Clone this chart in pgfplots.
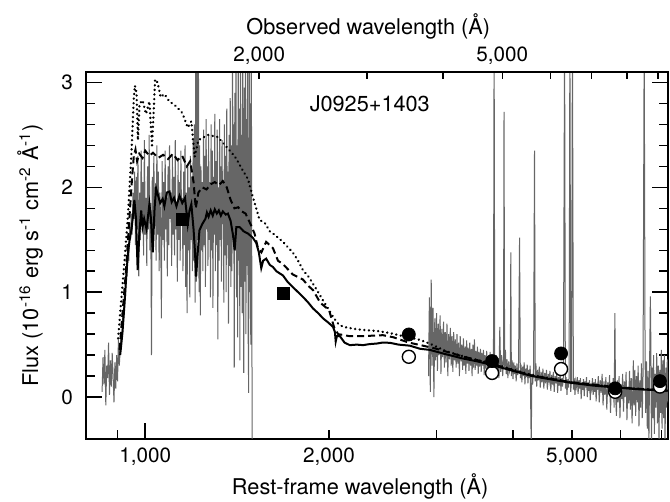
\documentclass[border=0pt]{standalone}
\usepackage{fontspec}
\setmainfont{TeX Gyre Heros}
\usepackage{pgfplots}
\pgfplotsset{compat=1.18}

\definecolor{specgray}{gray}{0.40}

\newcommand{\tickfont}{\fontsize{10.35}{12}\selectfont}
\newcommand{\labfont}{\fontsize{10.85}{13}\selectfont}

\begin{document}
\begin{tikzpicture}
% rest-frame axis (main)
\begin{axis}[
    scale only axis, width=291pt, height=183.5pt,
    xmode=log, xmin=800, xmax=7180,
    ymin=-0.4, ymax=3.1,
    axis line style={line width=1pt},
    every tick/.style={line width=0.75pt, black},
    tick align=inside,
    major tick length=8pt, minor tick length=4.3pt,
    xtick pos=left, yticklabel pos=left,
    xtick={1000}, xticklabels={1{,}000},
    minor xtick={900,2000,3000,4000,5000,6000,7000},
    extra x ticks={2000,5000}, extra x tick labels={{2,000},{5,000}},
    extra x tick style={major tick length=0pt},
    ytick={0,1,2,3}, minor y tick num=4,
    /pgf/number format/assume math mode=true,
    tick label style={font=\tickfont},
    yticklabel style={xshift=-3pt},
    xticklabel style={yshift=-1pt},
    label style={font=\labfont},
    xlabel={Rest-frame wavelength (Å)},
    xlabel style={at={(rel axis cs:0.471,-0.128)}, anchor=center},
    ylabel={Flux (10\textsuperscript{-16} erg s\textsuperscript{-1} cm\textsuperscript{-2} Å\textsuperscript{-1})},
    ylabel style={at={(rel axis cs:-0.0962,0.5)}, anchor=center},
]
\coordinate (bbsw) at (rel axis cs:0,0);
\coordinate (bbne) at (rel axis cs:1,1);

% COS far-UV spectrum
\addplot[specgray, line width=0.5pt] coordinates {
(850,0.05) (853,0.38) (856,0.12) (859,0.45) (862,-0.08) (865,0.30) (868,0.18) (871,0.52) (874,0.02) (877,0.35)
(880,0.10) (883,0.42) (886,0.20) (889,-0.05) (892,0.33) (895,0.08) (898,0.40) (901,0.15) (904,0.55) (907,0.30)
(910,0.45) (913,0.62) (916,0.55) (919,0.80) (922,0.75) (925,0.98) (928,0.92) (931,1.20) (934,1.15) (937,1.42)
(940,1.30) (943,1.62) (946,1.50) (949,1.75) (952,1.55) (955,1.95) (958,1.70) (961,2.15)
(964,1.45) (967,2.10) (970,1.60) (973,2.30) (976,1.15) (979,1.95) (982,1.50) (985,2.35) (988,1.70) (991,2.05)
(994,1.35) (997,2.45) (1000,1.55) (1003,1.90) (1006,1.25) (1009,2.20) (1012,1.60) (1015,2.50) (1018,1.40) (1021,1.85)
(1024,0.40) (1027,2.10) (1030,1.45) (1033,2.30) (1036,1.70) (1039,2.00) (1042,1.30) (1045,2.40) (1048,1.55) (1051,2.15)
(1054,1.20) (1057,1.95) (1060,1.65) (1063,0.75) (1066,2.25) (1069,1.50) (1072,2.05) (1075,1.30) (1078,2.35) (1081,1.60)
(1084,1.90) (1087,1.15) (1090,2.20) (1093,1.45) (1096,2.40) (1099,1.70) (1102,1.95) (1105,1.25) (1108,2.30) (1111,1.55)
(1114,2.10) (1117,1.35) (1120,2.45) (1123,1.60) (1126,1.85) (1129,1.10) (1132,2.25) (1135,1.50) (1138,2.05) (1141,1.30)
(1144,2.35) (1147,1.65) (1150,1.90) (1153,1.20) (1156,2.15) (1159,1.45) (1162,2.40) (1165,1.05) (1168,1.95) (1171,0.80)
(1174,2.20) (1177,1.40) (1180,2.00) (1183,0.95) (1186,2.30) (1189,1.50) (1192,2.10) (1195,1.20) (1198,2.45)
(1201,1.30) (1204,2.60) (1207,0.90) (1210,3.50) (1213,1.10) (1216,3.50) (1219,1.50) (1222,3.50) (1225,1.00) (1228,2.40)
(1231,0.78) (1234,2.20) (1237,1.40) (1240,2.05)
(1243,1.20) (1246,2.55) (1249,1.45) (1252,2.30) (1255,1.05) (1258,2.65) (1261,1.60) (1264,2.20) (1267,1.25) (1270,2.50)
(1273,1.50) (1276,2.05) (1279,0.95) (1282,2.60) (1285,1.40) (1288,2.35) (1291,0.85) (1294,2.10) (1297,1.55) (1300,2.70)
(1303,1.20) (1306,2.25) (1309,1.45) (1312,2.55) (1315,0.55) (1318,2.00) (1321,1.30) (1324,2.65) (1327,1.50) (1330,2.20)
(1333,1.10) (1336,2.45) (1339,1.65) (1342,2.05) (1345,0.90) (1348,2.60) (1351,1.35) (1354,2.30) (1357,1.00) (1360,2.75)
(1363,1.45) (1366,2.15) (1369,0.70) (1372,2.50) (1375,1.25) (1378,2.85) (1381,1.05) (1384,2.40)
(1387,1.20) (1390,3.50) (1393,1.55) (1396,2.60) (1399,0.28) (1402,2.90) (1405,1.40) (1408,3.50) (1411,0.95) (1414,2.40)
(1417,0.57) (1420,3.50) (1423,1.30) (1426,2.75) (1429,0.35) (1432,3.50) (1435,1.05) (1438,2.50) (1441,0.80) (1444,3.50)
(1447,1.45) (1450,0.23) (1453,2.95) (1456,1.10) (1459,3.50) (1462,0.60) (1465,2.65) (1468,1.25) (1471,3.50) (1474,0.70)
(1477,0.04) (1480,3.50) (1483,1.00) (1486,2.80) (1489,0.50) (1492,3.50) (1495,0.90) (1497,-0.50)
};

% SDSS optical spectrum
\addplot[specgray, line width=0.5pt] coordinates {
(2910,0.20) (2920,0.95) (2930,0.05) (2940,1.12) (2950,0.30) (2960,0.85) (2970,0.00) (2980,0.75) (2990,0.35) (3000,0.80)
(3010,0.25) (3020,0.70) (3030,0.40) (3040,0.78) (3050,0.22) (3060,0.65) (3070,0.38) (3080,0.72) (3090,0.28) (3100,0.62)
(3110,0.33) (3120,0.70) (3130,0.20) (3140,0.60) (3150,0.36) (3160,0.66) (3170,0.30) (3180,0.58) (3190,0.24) (3200,0.62)
(3210,0.35) (3220,0.55) (3230,0.28) (3240,0.60) (3250,0.32) (3260,0.52) (3270,0.20) (3280,0.58) (3290,0.34) (3300,0.50)
(3310,0.26) (3320,0.56) (3330,0.30) (3340,0.48) (3350,0.22) (3360,0.54) (3370,0.32) (3380,0.47) (3390,0.25) (3400,0.52)
(3410,0.30) (3420,0.46) (3430,0.20) (3440,0.50) (3450,0.28) (3460,0.55) (3470,0.26) (3480,0.44) (3490,0.30) (3500,0.48)
(3510,0.22) (3520,0.43) (3530,0.29) (3540,0.46) (3550,0.24) (3560,0.42) (3570,0.30) (3580,0.45) (3590,0.21) (3600,0.40)
(3612,0.27) (3624,0.44) (3636,0.23) (3648,0.39) (3660,0.28) (3672,0.43) (3684,0.22) (3696,0.38) (3708,0.27) (3718,0.45)
(3727,3.50) (3736,0.30) (3748,0.20) (3760,0.40) (3772,0.25) (3784,0.37) (3796,0.18) (3808,0.67) (3820,0.24) (3835,0.40)
(3850,0.20) (3862,0.36) (3869,2.72) (3878,0.28) (3890,0.45) (3902,0.22) (3914,0.36) (3926,0.18) (3938,0.34) (3950,0.25)
(3962,0.30) (3969,1.38) (3978,0.20) (3990,0.35) (4002,0.17) (4014,0.33) (4026,0.22) (4038,0.30) (4050,0.15) (4062,0.32)
(4074,0.21) (4086,0.28) (4102,1.52) (4114,0.18) (4126,0.31) (4138,0.14) (4150,0.29) (4162,0.20) (4174,0.33) (4186,0.12)
(4198,0.27) (4210,0.19) (4222,0.31) (4234,0.13) (4246,0.26) (4258,0.18) (4270,0.30) (4287,-0.50) (4296,0.22) (4310,0.12)
(4325,0.28) (4340,2.35) (4352,0.15) (4363,0.32) (4376,0.10) (4390,0.26) (4405,0.16) (4420,0.29) (4435,0.09) (4450,0.24)
(4465,0.14) (4480,0.27) (4495,0.08) (4510,0.23) (4525,0.13) (4540,0.26) (4555,0.07) (4570,0.22) (4585,0.15) (4600,0.25)
(4615,0.06) (4630,0.21) (4645,0.12) (4660,0.24) (4675,0.05) (4690,0.20) (4705,0.13) (4720,0.23) (4735,0.04) (4750,0.19)
(4765,0.11) (4780,0.22) (4795,0.06) (4810,0.18) (4825,0.10) (4840,0.21) (4861,3.50) (4875,0.08) (4890,0.19) (4905,0.02)
(4920,0.17) (4935,0.09) (4945,0.20) (4959,3.50) (4975,0.05) (4990,0.16) (5007,3.50) (5025,0.07) (5040,0.18) (5055,0.02)
(5070,0.15) (5085,0.10) (5100,0.19) (5115,0.03) (5130,0.16) (5145,0.08) (5160,0.18) (5175,-0.02) (5190,0.14) (5205,0.07)
(5220,0.17) (5235,0.01) (5250,0.15) (5265,0.09) (5280,0.19) (5295,0.00) (5310,0.14) (5325,0.06) (5340,0.16) (5355,-0.03)
(5370,0.13) (5385,0.08) (5400,0.18) (5415,0.02) (5430,0.14) (5445,0.05) (5460,0.17) (5475,-0.04) (5490,0.13) (5505,0.07)
(5520,0.20) (5540,-0.05) (5560,0.16) (5580,0.04) (5600,0.22) (5620,-0.08) (5640,0.15) (5660,0.02) (5680,0.19) (5700,-0.12)
(5720,0.14) (5740,0.03) (5760,0.21) (5780,-0.15) (5800,0.12) (5820,0.00) (5840,0.18) (5860,-0.10) (5876,0.80) (5890,0.05)
(5910,-0.18) (5930,0.16) (5950,-0.05) (5970,0.20) (5990,-0.20) (6010,0.12) (6030,-0.02) (6050,0.22) (6070,-0.14) (6090,0.15)
(6110,0.00) (6130,0.24) (6150,-0.22) (6170,0.10) (6190,-0.06) (6210,0.25) (6230,-0.12) (6250,0.18) (6270,-0.25) (6290,0.14)
(6300,0.35) (6315,-0.08) (6335,0.26) (6355,-0.18) (6375,0.20) (6395,-0.05) (6415,0.30) (6435,-0.28) (6455,0.16) (6475,-0.10)
(6495,0.32) (6515,-0.20) (6535,0.22) (6563,3.50) (6584,0.45) (6600,-0.15) (6620,0.34) (6640,-0.30) (6660,0.25) (6680,-0.45)
(6700,0.38) (6717,0.96) (6731,0.50) (6745,-0.50) (6760,0.28) (6780,-0.20) (6800,0.40) (6820,-0.35) (6840,0.22) (6860,-0.10)
(6880,0.42) (6900,-0.25) (6920,0.30) (6940,-0.40) (6960,0.26) (6980,-0.15) (7000,0.45) (7020,-0.30) (7040,0.35) (7060,-0.20)
(7080,0.40) (7100,-0.45) (7120,0.28) (7140,-0.10) (7160,0.36) (7180,-0.05)
};

% model: dotted
\addplot[black, line width=1.3pt, line cap=round, dash pattern=on 0.01pt off 2.3pt] coordinates {
(903,0.56) (913,0.90) (925,1.30) (937,1.73) (949,2.30) (958,2.85) (962,2.97) (968,2.90) (973,2.45) (979,2.80)
(990,2.83) (1003,2.70) (1016,2.82) (1026,2.40) (1033,2.75) (1038,3.03) (1048,3.00) (1060,2.86) (1075,2.89) (1095,2.82)
(1120,2.78) (1150,2.71) (1174,2.57) (1190,2.63) (1205,2.29) (1222,2.45) (1267,2.50) (1315,2.48) (1366,2.37) (1400,2.30)
(1420,2.24) (1445,2.16) (1473,2.08) (1500,1.91) (1520,1.80) (1539,1.69) (1570,1.66) (1600,1.58) (1619,1.56) (1650,1.52)
(1681,1.48) (1712,1.43) (1744,1.38) (1780,1.30) (1813,1.21) (1850,1.15) (1883,1.08) (1920,1.00) (1956,0.92) (1995,0.84)
(2030,0.765) (2070,0.70) (2108,0.67) (2200,0.65) (2274,0.64) (2400,0.63) (2517,0.61) (2650,0.58) (2800,0.55) (2924,0.51)
(3100,0.44) (3400,0.37) (3700,0.32) (4300,0.21) (5000,0.14) (6000,0.09) (7180,0.06)
};

% model: dashed
\addplot[black, line width=1pt, dash pattern=on 3.5pt off 2pt] coordinates {
(908,0.45) (918,0.80) (930,1.20) (942,1.70) (952,2.10) (958,2.30) (964,2.36) (970,2.25) (978,2.32) (990,2.28)
(1000,2.35) (1016,2.30) (1030,2.33) (1050,2.28) (1070,2.31) (1090,2.27) (1110,2.32) (1130,2.26) (1150,2.30) (1170,2.20)
(1185,2.25) (1200,2.05) (1210,1.80) (1222,1.95) (1240,2.00) (1260,1.98) (1280,2.03) (1300,2.05) (1320,2.02) (1340,2.06)
(1360,2.00) (1380,1.88) (1400,1.80) (1420,1.81) (1440,1.77) (1460,1.75) (1490,1.64) (1510,1.56) (1530,1.42) (1550,1.38)
(1578,1.48) (1619,1.42) (1650,1.30) (1680,1.27) (1744,1.17) (1813,1.12) (1850,1.06) (1883,1.02) (1935,0.90) (2000,0.83)
(2040,0.66) (2070,0.60) (2120,0.59) (2163,0.58) (2250,0.58) (2350,0.585) (2450,0.59) (2550,0.57) (2700,0.52) (2850,0.49)
(3000,0.46) (3300,0.39) (3700,0.315) (4300,0.205) (5000,0.14) (6000,0.09) (7180,0.06)
};

% model: solid
\addplot[black, line width=1pt] coordinates {
(910,0.40) (918,0.62) (925,0.89) (931,1.15) (937,1.37) (943,1.50) (949,1.59) (955,1.72) (960,1.88) (966,1.70)
(972,1.21) (978,1.55) (985,1.78) (990,1.62) (996,1.70) (1005,1.60) (1016,1.84) (1022,1.70) (1029,1.38) (1036,1.80)
(1042,1.99) (1050,1.92) (1058,1.85) (1068,1.89) (1075,1.82) (1085,1.95) (1096,1.96) (1105,1.86) (1115,1.90) (1125,1.82)
(1138,1.92) (1150,1.85) (1162,1.90) (1174,1.65) (1182,1.78) (1190,1.84) (1200,1.60) (1206,1.40) (1212,1.15) (1218,1.35)
(1227,1.59) (1240,1.65) (1255,1.70) (1262,1.76) (1270,1.72) (1280,1.78) (1290,1.73) (1300,1.79) (1310,1.75) (1320,1.78)
(1330,1.73) (1340,1.77) (1355,1.74) (1366,1.75) (1380,1.68) (1392,1.55) (1401,1.40) (1410,1.62) (1428,1.62) (1450,1.58)
(1473,1.56) (1500,1.52) (1520,1.47) (1535,1.38) (1549,1.23) (1560,1.30) (1578,1.32) (1600,1.26) (1619,1.24) (1640,1.20)
(1660,1.18) (1681,1.16) (1710,1.10) (1744,1.05) (1780,1.00) (1813,0.955) (1850,0.90) (1883,0.845) (1920,0.80) (1956,0.75)
(1995,0.71) (2030,0.67) (2045,0.62) (2051,0.53) (2060,0.58) (2084,0.58) (2120,0.52) (2163,0.495) (2220,0.50) (2274,0.495)
(2330,0.505) (2392,0.51) (2450,0.52) (2517,0.517) (2600,0.50) (2712,0.49) (2820,0.46) (2924,0.45) (3100,0.41) (3300,0.37)
(3500,0.34) (3700,0.305) (4000,0.25) (4300,0.20) (4600,0.17) (4960,0.137) (5400,0.11) (5880,0.092) (6400,0.075) (7180,0.06)
};

% broad-band photometry
\addplot[only marks, mark=square*, mark size=3pt, black] coordinates {(1150,1.695) (1687,0.99)};
\addplot[only marks, mark=*, mark size=3.25pt, mark options={fill=white, draw=black, line width=0.7pt}]
    coordinates {(2702,0.384) (3699,0.23) (4797,0.267) (5882,0.05) (6965,0.10)};
\addplot[only marks, mark=*, mark size=3.25pt, black]
    coordinates {(2702,0.597) (3699,0.343) (4797,0.416) (5882,0.083) (6965,0.152)};

\node[font=\labfont] at (axis cs:2332,2.80) {J0925+1403};
\end{axis}

% observed-frame axis (top), z = 0.301
\begin{axis}[
    scale only axis, width=291pt, height=183.5pt,
    xmode=log, xmin=1040.8, xmax=9341,
    ymin=-0.4, ymax=3.1,
    hide y axis,
    axis x line*=top,
    axis line style={line width=1pt},
    every tick/.style={line width=0.75pt, black},
    tick align=inside,
    major tick length=3.5pt,
    xtick={2000,3000,4000,5000,6000,7000,8000,9000},
    xticklabels={{2,000},,,{5,000},,,,},
    minor xtick={},
    tick label style={font=\tickfont},
    label style={font=\labfont},
    xlabel={Observed wavelength (Å)},
    xlabel style={at={(rel axis cs:0.485,1.125)}, anchor=center},
]
\end{axis}

\pgfresetboundingbox
\path ([xshift=-43pt,yshift=-31.5pt]bbsw) rectangle ([xshift=1pt,yshift=36pt]bbne);
\end{tikzpicture}
\end{document}
